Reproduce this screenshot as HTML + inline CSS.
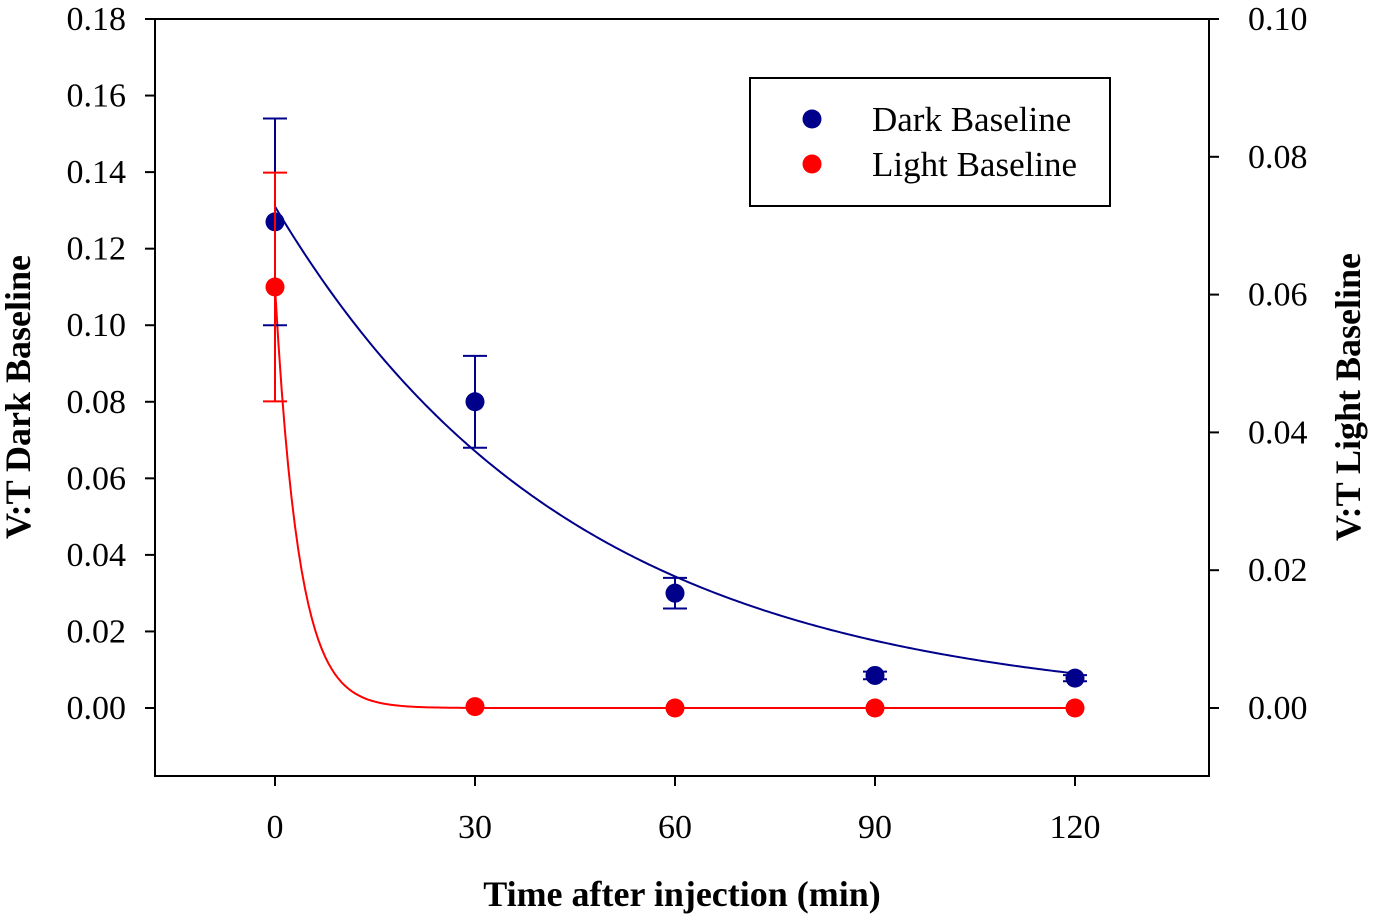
<!DOCTYPE html>
<html><head><meta charset="utf-8"><style>
body{margin:0;background:#fff;}
svg{display:block;font-family:"Liberation Serif",serif;}
</style></head><body>
<svg id="chart" width="1375" height="922">
<g id="axes"></g><g id="marks"></g>
</svg>
<script>
const times=[0,30,60,90,120];
const darkValues=[0.127,0.080,0.030,0.0085,0.0078];
const darkErr=[0.027,0.012,0.004,0.001,0.0008];
const lightValues=[0.0611,0.0002,0,0,0];
const lightErr=[0.0166,0,0,0,0];
const darkFitA=0.131, darkFitK=0.0223;
const lightFitA=0.0611, lightFitK=0.28;
const xTicks=[0,30,60,90,120];
const leftTicks=[0,0.02,0.04,0.06,0.08,0.10,0.12,0.14,0.16,0.18];
const rightTicks=[0,0.02,0.04,0.06,0.08,0.10];

const NS="http://www.w3.org/2000/svg";
const L=155,R=1209,T=19,B=776,Y0=708;
const x=t=>275+t*200/30;
const yL=v=>Y0-v*(Y0-T)/0.18;
const yR=v=>Y0-v*(Y0-T)/0.10;
function mk(tag,at,parent,txt){const e=document.createElementNS(NS,tag);for(const k in at)e.setAttribute(k,at[k]);if(txt!==undefined)e.textContent=txt;parent.appendChild(e);return e;}
const ax=document.getElementById('axes'),mg=document.getElementById('marks');
let e=mk('rect',{x:L,y:T,width:R-L,height:B-T,fill:'none',stroke:'#000','stroke-width':2},ax);


xTicks.forEach(t=>{mk('line',{x1:x(t),x2:x(t),y1:B,y2:B+10,stroke:'#000','stroke-width':2},ax);
 e=mk('text',{x:x(t),y:838,'font-size':34,'text-anchor':'middle'},ax,String(t));
 
 });
leftTicks.forEach(v=>{mk('line',{x1:L-10,x2:L,y1:yL(v),y2:yL(v),stroke:'#000','stroke-width':2},ax);
 e=mk('text',{x:126,y:yL(v)+11,'font-size':34,'text-anchor':'end'},ax,v.toFixed(2));
 
 });
rightTicks.forEach(v=>{mk('line',{x1:R,x2:R+10,y1:yR(v),y2:yR(v),stroke:'#000','stroke-width':2},ax);
 e=mk('text',{x:1248,y:yR(v)+11,'font-size':34},ax,v.toFixed(2));
 
 });
e=mk('text',{x:682,y:906,'font-size':36,'font-weight':'bold','text-anchor':'middle'},ax,'Time after injection (min)');


e=mk('text',{x:0,y:0,'font-size':36,'font-weight':'bold','text-anchor':'middle',transform:'translate(30,397) rotate(-90)'},ax,'V:T Dark Baseline');


e=mk('text',{x:0,y:0,'font-size':36,'font-weight':'bold','text-anchor':'middle',transform:'translate(1360,397) rotate(-90)'},ax,'V:T Light Baseline');


let dp='',lp='';
for(let t=0;t<=120;t+=0.5){dp+=(t?'L':'M')+x(t)+','+yL(darkFitA*Math.exp(-darkFitK*t));lp+=(t?'L':'M')+x(t)+','+yR(lightFitA*Math.exp(-lightFitK*t));}
e=mk('path',{d:dp,fill:'none',stroke:'#00008b','stroke-width':2},mg);


e=mk('path',{d:lp,fill:'none',stroke:'#ff0000','stroke-width':2},mg);


function series(vals,errs,yf,col,name){vals.forEach((v,i)=>{const cx=x(times[i]);
 if(errs[i]>0){const y1=yf(v+errs[i]),y2=yf(v-errs[i]);
  mk('line',{x1:cx,x2:cx,y1:y1,y2:y2,stroke:col,'stroke-width':2},mg);
  mk('line',{x1:cx-12,x2:cx+12,y1:y1,y2:y1,stroke:col,'stroke-width':2},mg);
  mk('line',{x1:cx-12,x2:cx+12,y1:y2,y2:y2,stroke:col,'stroke-width':2},mg);}
 const c=mk('circle',{cx:cx,cy:yf(v),r:9.5,fill:col},mg);
 
 });}
series(darkValues,darkErr,yL,'#00008b','dark');
series(lightValues,lightErr,yR,'#ff0000','light');
const lg=mk('g',{},mg);


mk('rect',{x:750,y:78,width:360,height:128,fill:'#fff',stroke:'#000','stroke-width':2},lg);
mk('circle',{cx:812,cy:119,r:9.5,fill:'#00008b'},lg);
mk('circle',{cx:812,cy:164,r:9.5,fill:'#ff0000'},lg);
e=mk('text',{x:872,y:131,'font-size':35},lg,'Dark Baseline');


e=mk('text',{x:872,y:176,'font-size':35},lg,'Light Baseline');


</script>
</body></html>
